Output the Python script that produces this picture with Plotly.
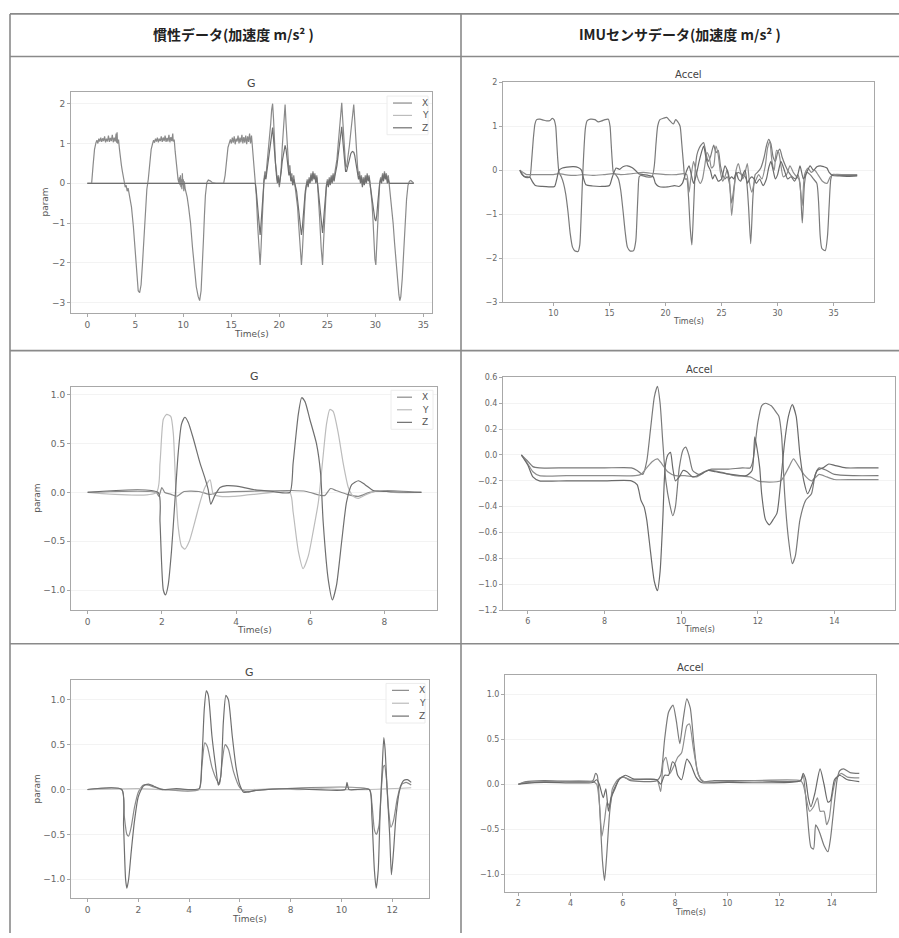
import plotly.graph_objects as go

W, H = 899, 938

# ---------------- DATA ----------------
# Panel 1 (慣性データ, G) row 1
g1_x_t = [0, 0.45, 0.6, 0.75, 0.9, 1.0, 1.1, 1.2, 1.3, 1.4, 1.5, 1.6, 1.7, 1.8, 1.9, 2.0, 2.1, 2.2, 2.3, 2.4, 2.5, 2.6, 2.7, 2.8, 2.9, 3.0, 3.05, 3.1, 3.15, 3.25, 3.35, 3.45, 3.55, 3.65, 3.75, 3.85, 3.95, 4.05, 4.15, 4.25, 4.35, 4.45,
          4.6, 4.8, 5.0, 5.15, 5.3, 5.45, 5.6, 5.75, 5.9, 6.05, 6.2, 6.35, 6.5, 6.65, 6.8,
          6.9, 7.0, 7.1, 7.2, 7.3, 7.4, 7.5, 7.6, 7.7, 7.8, 7.9, 8.0, 8.1, 8.2, 8.3, 8.4, 8.5, 8.6, 8.7, 8.8, 8.9, 8.95, 9.05,
          9.15, 9.25, 9.35, 9.45, 9.55, 9.6, 9.65, 9.7, 9.75, 9.8, 9.85, 9.9, 9.95, 10.0, 10.05, 10.1, 10.2, 10.3, 10.4,
          10.55, 10.75, 10.95, 11.15, 11.35, 11.55, 11.7, 11.85, 12.0, 12.1, 12.2, 12.3, 12.45, 12.6, 12.8, 13.0, 13.4, 14.2,
          14.35, 14.5, 14.65, 14.8,
          14.9, 15.0, 15.1, 15.2, 15.3, 15.4, 15.5, 15.6, 15.7, 15.8, 15.9, 16.0, 16.1, 16.2, 16.3, 16.4, 16.5, 16.6, 16.7, 16.8, 16.9, 17.0, 17.1,
          17.2, 17.35, 17.5, 17.6, 17.75, 17.9, 18.0, 18.1, 18.2, 18.3, 18.4, 18.5, 18.6, 18.7, 18.8, 18.9, 19.0, 19.1, 19.2, 19.3, 19.4, 19.5, 19.6, 19.7, 19.8, 19.9, 20.0, 20.1, 20.2, 20.3, 20.45, 20.6, 20.7, 20.8, 20.9, 21.0, 21.1, 21.2, 21.3, 21.4, 21.5, 21.6, 21.7, 21.8, 21.9, 22.0, 22.15, 22.3, 22.4, 22.5, 22.6, 22.7, 22.8, 22.9, 23.0, 23.1, 23.2, 23.3, 23.4, 23.5, 23.6, 23.7, 23.8, 23.9, 24.0, 24.1, 24.2, 24.35, 24.5, 24.6, 24.7, 24.8, 24.9, 25.0, 25.1, 25.2, 25.3, 25.4, 25.5, 25.6, 25.7, 25.8, 25.9, 26.0, 26.1, 26.25, 26.4, 26.5, 26.6, 26.7, 26.8, 26.9, 27.0, 27.1, 27.2, 27.3, 27.45, 27.6, 27.75, 27.85, 27.95, 28.05, 28.15, 28.25, 28.35, 28.45, 28.55, 28.65, 28.75, 28.85, 28.95, 29.05, 29.15, 29.25, 29.35, 29.45, 29.55, 29.65, 29.75, 29.85, 29.95, 30.05, 30.15, 30.25, 30.35, 30.45, 30.55, 30.65, 30.75, 30.85, 30.95, 31.05, 31.15, 31.25, 31.35, 31.45, 31.55, 31.65, 31.75, 31.85, 32.0, 32.15, 32.3, 32.45, 32.55, 32.65, 32.8, 32.95, 33.1, 33.25, 33.4, 33.55, 33.7, 33.85, 34.0]
g1_x_v = [0, 0, 0.45, 0.85, 1.02, 1.08, 1.0, 1.12, 1.05, 1.15, 1.04, 1.13, 1.06, 1.18, 1.03, 1.12, 1.05, 1.2, 1.04, 1.14, 1.06, 1.22, 1.03, 1.15, 1.05, 1.25, 1.02, 1.28, 1.0, 1.1, 0.85, 0.6, 0.45, 0.3, 0.15, 0.05, -0.1, -0.05, -0.2, -0.12, -0.25, -0.35,
          -0.6, -1.1, -1.8, -2.4, -2.7, -2.75, -2.55, -2.0, -1.3, -0.6, -0.15, 0.1, 0.5, 0.85, 1.0,
          1.08, 1.02, 1.12, 1.05, 1.15, 1.03, 1.12, 1.06, 1.18, 1.04, 1.15, 1.06, 1.2, 1.04, 1.14, 1.05, 1.22, 1.03, 1.16, 1.06, 1.25, 1.05, 1.1,
          0.8, 0.5, 0.25, 0.1, 0.0, 0.15, -0.05, 0.2, -0.1, 0.1, -0.15, 0.25, -0.05, 0.1, -0.2, 0.05, -0.15, -0.25, -0.35,
          -0.6, -1.0, -1.6, -2.2, -2.6, -2.85, -2.95, -2.7, -2.1, -1.4, -0.8, -0.3, 0.02, 0.08, 0.06, 0.02, 0.0, 0.0,
          0.2, 0.6, 0.9, 1.02,
          1.1, 1.0, 1.15, 1.02, 1.18, 0.98, 1.12, 1.05, 1.2, 1.0, 1.15, 1.03, 1.22, 1.0, 1.16, 1.02, 1.2, 0.98, 1.18, 1.04, 1.25, 1.0, 1.2,
          0.9, 0.5, 0.1, -0.3, -1.1, -1.8, -2.05, -1.6, -0.9, -0.3, 0.1, 0.3, 0.15, 0.45, 0.7, 0.9, 1.2, 1.5, 1.85, 2.0, 1.6, 1.0, 0.5, 0.3, 0.05, 0.2, -0.1, 0.15, 0.4, 0.9, 1.6, 1.98, 1.5, 1.0, 0.6, 0.3, 0.45, 0.1, 0.25, -0.05, 0.2, 0.0, -0.1, -0.3, -0.6, -1.0, -1.6, -2.05, -1.7, -1.1, -0.6, -0.3, -0.1, 0.1, -0.05, 0.15, 0.05, 0.25, 0.1, 0.3, 0.15, 0.25, 0.05, 0.2, -0.1, -0.4, -0.9, -1.6, -2.05, -1.5, -0.9, -0.4, -0.1, 0.1, -0.05, 0.15, 0.0, 0.2, 0.05, 0.25, 0.1, 0.3, 0.45, 0.6, 0.9, 1.4, 1.85, 2.02, 1.6, 1.1, 0.7, 0.45, 0.4, 0.55, 0.8, 0.95, 1.3, 1.7, 1.98, 1.6, 1.1, 0.7, 0.4, 0.2, 0.3, 0.05, 0.2, -0.05, 0.15, 0.0, 0.2, 0.05, 0.25, 0.1, 0.2, 0.0, -0.2, -0.5, -0.9, -1.5, -1.9, -2.05, -1.5, -0.8, -0.3, 0.0, 0.15, 0.05, 0.25, 0.1, 0.3, 0.15, 0.25, 0.05, 0.2, -0.05, -0.2, -0.4, -0.7, -1.0, -1.5, -2.0, -2.5, -2.8, -2.95, -2.85, -2.4, -1.7, -1.0, -0.4, -0.05, 0.05, 0.07, 0.03, 0.0]
g1_y_t = [0, 34.0]
g1_y_v = [0, 0]
g1_z_t = [0, 17.5, 17.6, 17.75, 17.9, 18.0, 18.1, 18.2, 18.3, 18.4, 18.5, 18.6, 18.7, 18.8, 18.9, 19.0, 19.1, 19.2, 19.3, 19.4, 19.5, 19.6, 19.7, 19.8, 19.9, 20.0, 20.1, 20.2, 20.3, 20.45, 20.6, 20.7, 20.8, 20.9, 21.0, 21.1, 21.2, 21.3, 21.4, 21.5, 21.6, 21.7, 21.8, 21.9, 22.0, 22.15, 22.3, 22.4, 22.5, 22.6, 22.7, 22.8, 22.9, 23.0, 23.1, 23.2, 23.3, 23.4, 23.5, 23.6, 23.7, 23.8, 23.9, 24.0, 24.1, 24.2, 24.35, 24.5, 24.6, 24.7, 24.8, 24.9, 25.0, 25.1, 25.2, 25.3, 25.4, 25.5, 25.6, 25.7, 25.8, 25.9, 26.0, 26.1, 26.25, 26.4, 26.5, 26.6, 26.7, 26.8, 26.9, 27.0, 27.1, 27.2, 27.3, 27.45, 27.6, 27.75, 27.85, 27.95, 28.05, 28.15, 28.25, 28.35, 28.45, 28.55, 28.65, 28.75, 28.85, 28.95, 29.05, 29.15, 29.25, 29.35, 29.45, 29.55, 29.65, 29.75, 29.85, 29.95, 30.05, 30.15, 30.25, 30.35, 30.45, 30.55, 30.65, 30.75, 30.85, 30.95, 31.05, 31.15, 31.25, 31.35, 31.45, 31.6, 34.0]
g1_z_v = [0, 0, -0.2, -0.7, -1.1, -1.3, -1.0, -0.6, -0.2, 0.05, 0.2, 0.1, 0.3, 0.5, 0.6, 0.8, 1.0, 1.25, 1.4, 1.1, 0.7, 0.35, 0.2, 0.0, 0.15, -0.05, 0.1, 0.3, 0.55, 0.8, 0.95, 0.85, 0.6, 0.4, 0.2, 0.3, 0.05, 0.15, -0.05, 0.1, -0.05, -0.1, -0.2, -0.4, -0.65, -1.0, -1.3, -1.1, -0.7, -0.4, -0.2, -0.05, 0.05, -0.1, 0.1, 0.0, 0.2, 0.05, 0.25, 0.1, 0.2, 0.0, 0.15, -0.05, -0.3, -0.6, -1.0, -1.25, -0.95, -0.6, -0.25, -0.05, 0.05, -0.1, 0.1, -0.05, 0.15, 0.0, 0.2, 0.05, 0.2, 0.3, 0.45, 0.65, 1.0, 1.3, 1.42, 1.1, 0.8, 0.5, 0.3, 0.3, 0.4, 0.55, 0.65, 0.75, 0.8, 0.78, 0.7, 0.55, 0.4, 0.25, 0.1, 0.2, 0.0, 0.15, -0.1, 0.1, -0.05, 0.15, 0.0, 0.2, 0.05, 0.15, -0.05, -0.15, -0.35, -0.6, -0.8, -0.9, -0.95, -0.8, -0.5, -0.2, 0.0, 0.1, 0.0, 0.2, 0.05, 0.25, 0.1, 0.2, 0.0, 0.1, 0.0, 0.0, 0.0]

# Panel 2 (IMUセンサデータ, Accel) row 1
a1_a_t = [7.0, 7.2, 7.4, 7.7, 7.9, 8.05, 8.2, 8.35, 8.5, 8.8, 9.1, 9.4, 9.7, 9.9, 10.05, 10.2, 10.3, 10.4, 10.5, 10.7, 10.9, 11.1, 11.3, 11.5, 11.7, 11.9, 12.2, 12.35, 12.45, 12.55, 12.65, 12.75, 12.85, 13.0, 13.3, 13.7, 14.0, 14.3, 14.6, 14.9, 15.05, 15.15, 15.25, 15.35, 15.55, 15.8, 16.0, 16.2, 16.4, 16.6, 16.85, 17.15, 17.35, 17.45, 17.55, 17.65, 17.8, 18.3, 18.8, 19.0, 19.15, 19.3, 19.5, 19.8, 20.1, 20.4, 20.7, 20.9, 21.1, 21.3, 21.45, 21.6, 21.75, 21.9, 22.05, 22.2, 22.35, 22.5, 22.65, 22.8, 23.0, 23.2, 23.4, 23.6, 23.8, 24.0, 24.3, 24.5, 24.7, 24.9, 25.1, 25.3, 25.5, 25.7, 25.9, 26.1, 26.3, 26.5, 26.8, 27.0, 27.2, 27.4, 27.6, 27.8, 28.0, 28.2, 28.5, 28.8, 29.0, 29.2, 29.4, 29.6, 29.8, 30.0, 30.2, 30.4, 30.7, 31.0, 31.3, 31.6, 31.8, 32.0, 32.2, 32.4, 32.6, 32.9, 33.2, 33.5, 33.65, 33.8, 33.95, 34.25, 34.45, 34.6, 34.75, 34.9, 35.5, 36.3, 37.1]
a1_a_v = [0.0, -0.08, -0.15, -0.17, -0.15, 0.2, 0.7, 1.05, 1.15, 1.16, 1.14, 1.12, 1.13, 1.18, 1.15, 1.0, 0.6, 0.2, -0.05, -0.15, -0.3, -0.55, -0.95, -1.45, -1.75, -1.83, -1.85, -1.7, -1.2, -0.5, 0.1, 0.6, 0.95, 1.12, 1.16, 1.15, 1.1, 1.12, 1.15, 1.16, 1.0, 0.6, 0.2, -0.05, -0.1, -0.2, -0.45, -0.9, -1.4, -1.75, -1.84, -1.83, -1.6, -1.1, -0.5, -0.15, -0.12, -0.15, -0.15, 0.1, 0.6, 1.0, 1.15, 1.18, 1.2, 1.12, 1.05, 1.15, 1.1, 1.0, 0.6, 0.15, -0.2, -0.2, -0.6, -1.3, -1.7, -0.9, 0.0, 0.35, 0.5, 0.58, 0.63, 0.4, 0.2, 0.3, 0.57, 0.4, 0.45, 0.1, -0.1, -0.2, -0.15, -0.3, -0.75, -0.4, -0.1, -0.05, -0.1, -0.12, -0.2, -0.8, -1.67, -0.6, -0.1, -0.05, 0.05, 0.3, 0.55, 0.7, 0.6, 0.3, 0.2, 0.4, 0.48, 0.3, 0.1, -0.05, -0.15, -0.2, -0.1, -0.3, -1.2, -0.3, -0.05, -0.1, -0.2, -0.3, -0.7, -1.5, -1.78, -1.83, -1.5, -0.8, -0.2, -0.1, -0.11, -0.12, -0.12]
a1_b_t = [7.0, 7.3, 7.6, 8.0, 9.0, 10.0, 10.5, 11.0, 12.0, 12.6, 13.5, 14.5, 15.3, 16.0, 17.0, 18.0, 19.0, 20.0, 21.0, 21.6, 21.9, 22.1, 22.25, 22.5, 22.7, 22.9, 23.1, 23.3, 23.5, 23.7, 23.9, 24.1, 24.3, 24.5, 24.7, 24.9, 25.1, 25.3, 25.5, 25.7, 25.9, 26.1, 26.3, 26.5, 26.7, 26.9, 27.1, 27.3, 27.5, 27.7, 27.9, 28.1, 28.3, 28.6, 28.9, 29.1, 29.3, 29.5, 29.7, 29.9, 30.1, 30.3, 30.5, 30.8, 31.1, 31.4, 31.7, 31.9, 32.1, 32.2, 32.4, 32.7, 33.0, 33.3, 33.6, 34.0, 34.4, 34.7, 35.0, 36.0, 37.1]
a1_b_v = [0.0, -0.05, -0.1, -0.1, -0.1, -0.1, -0.08, -0.1, -0.12, -0.1, -0.12, -0.1, -0.08, -0.1, -0.08, -0.05, -0.08, -0.1, -0.1, -0.08, -0.1, -0.5, -0.2, 0.2, 0.0, -0.2, -0.3, -0.2, 0.1, 0.4, 0.3, 0.05, 0.1, 0.55, 0.35, -0.05, -0.25, -0.15, 0.0, -0.2, -1.03, -0.5, 0.0, 0.15, -0.05, -0.2, -0.05, 0.15, -0.3, -0.5, -0.3, -0.2, -0.1, -0.2, 0.1, 0.5, 0.65, 0.2, 0.0, 0.45, 0.4, 0.1, -0.15, -0.1, 0.1, -0.05, -0.15, -0.2, -0.6, -0.8, -0.1, 0.05, -0.05, 0.0, -0.1, -0.25, -0.3, -0.15, -0.1, -0.1, -0.1]
a1_c_t = [7.0, 7.2, 7.5, 7.9, 8.1, 8.4, 9.0, 9.6, 10.1, 10.3, 10.5, 10.8, 11.2, 11.8, 12.2, 12.5, 12.7, 12.9, 13.5, 14.3, 15.0, 15.2, 15.4, 15.6, 15.9, 16.2, 16.6, 17.0, 17.3, 17.6, 18.0, 18.5, 18.9, 19.1, 19.4, 20.2, 20.8, 21.2, 21.5, 21.7, 21.9, 22.1, 22.3, 22.5, 22.7, 23.0, 23.2, 23.4, 23.6, 23.8, 24.0, 24.2, 24.4, 24.7, 25.0, 25.3, 25.5, 25.7, 25.9, 26.1, 26.3, 26.5, 26.7, 26.9, 27.1, 27.3, 27.5, 27.7, 27.9, 28.1, 28.4, 28.7, 29.0, 29.2, 29.4, 29.6, 29.8, 30.0, 30.3, 30.6, 30.9, 31.2, 31.5, 31.8, 32.0, 32.3, 32.6, 32.9, 33.2, 33.5, 33.8, 34.1, 34.4, 34.6, 34.9, 35.5, 36.3, 37.1]
a1_c_v = [0.0, -0.1, -0.15, -0.16, -0.25, -0.35, -0.37, -0.38, -0.37, -0.2, 0.0, 0.05, 0.07, 0.08, 0.06, 0.0, -0.2, -0.33, -0.36, -0.37, -0.35, -0.2, -0.05, 0.05, 0.02, 0.08, 0.1, 0.06, 0.0, -0.08, -0.1, -0.12, -0.15, -0.3, -0.37, -0.38, -0.35, -0.37, -0.3, -0.15, 0.0, 0.1, -0.1, -0.3, -0.15, 0.2, 0.4, 0.55, 0.3, 0.1, 0.0, -0.2, -0.1, -0.25, -0.2, 0.1, 0.0, -0.2, -0.15, -0.2, -0.05, -0.2, -0.25, -0.1, 0.0, -0.3, -0.2, -0.15, -0.2, -0.3, -0.2, -0.35, -0.2, 0.05, 0.2, 0.0, -0.2, -0.1, 0.2, 0.0, -0.2, -0.15, -0.25, -0.1, 0.1, -0.2, -0.05, 0.1, 0.0, 0.08, 0.1, 0.08, 0.05, -0.05, -0.12, -0.13, -0.14, -0.13]

# Panel 3 (G) row 2
g2_x_t = [0, 1.85, 1.92, 2.0, 2.08, 2.25, 2.4, 2.6, 3.0, 3.3, 3.5, 5.5, 5.9, 6.28, 6.4, 6.55, 6.7, 7.0, 7.3, 7.6, 8.0, 9.0]
g2_x_v = [0, 0, -0.04, 0.05, 0.0, -0.02, -0.04, 0.01, 0.01, -0.02, 0.0, 0.02, 0.01, -0.03, -0.03, 0.04, 0.02, -0.02, -0.04, 0.0, 0.02, 0.0]
g2_y_t = [0, 1.85, 1.95, 2.04, 2.13, 2.24, 2.31, 2.38, 2.44, 2.53, 2.62, 2.74, 2.89, 3.03, 3.16, 3.3, 3.39, 3.57, 3.93, 4.47, 5.45, 5.54, 5.68, 5.81, 5.95, 6.08, 6.22, 6.33, 6.44, 6.53, 6.62, 6.76, 6.89, 7.03, 7.16, 7.3, 7.52, 7.88, 8.24, 9.0]
g2_y_v = [0, 0, 0.3, 0.75, 0.8, 0.78, 0.6, 0.0, -0.35, -0.55, -0.58, -0.5, -0.3, -0.1, 0.05, 0.13, -0.02, -0.04, -0.04, -0.02, 0, -0.2, -0.6, -0.78, -0.65, -0.4, -0.1, 0.3, 0.7, 0.85, 0.83, 0.6, 0.3, 0.05, -0.04, -0.06, -0.02, 0.02, 0, 0]
g2_z_t = [0, 1.9, 1.95, 2.04, 2.1, 2.17, 2.26, 2.35, 2.44, 2.53, 2.62, 2.71, 2.85, 3.03, 3.16, 3.25, 3.32, 3.43, 3.57, 3.75, 4.1, 4.47, 5.0, 5.45, 5.54, 5.68, 5.77, 5.86, 5.99, 6.17, 6.28, 6.35, 6.49, 6.6, 6.71, 6.85, 6.98, 7.12, 7.3, 7.48, 7.7, 8.06, 9.0]
g2_z_v = [0, 0, -0.3, -1.0, -1.05, -0.95, -0.6, -0.1, 0.4, 0.7, 0.77, 0.72, 0.55, 0.3, 0.15, 0.03, -0.12, -0.03, 0.05, 0.07, 0.06, 0.03, 0.01, 0.0, 0.3, 0.8, 0.97, 0.93, 0.75, 0.5, 0.2, -0.3, -0.9, -1.1, -0.95, -0.5, -0.1, 0.08, 0.12, 0.08, 0.02, 0.01, 0]

# Panel 4 (Accel) row 2
a2_p_t = [5.83, 6.0, 6.13, 6.3, 7.0, 8.0, 8.7, 8.85, 9.0, 9.1, 9.2, 9.3, 9.38, 9.45, 9.52, 9.6, 9.7, 9.78, 9.85, 9.95, 10.05, 10.12, 10.2, 10.3, 10.45, 10.6, 10.8, 11.2, 11.6, 11.8, 11.87, 12.0, 12.1, 12.2, 12.35, 12.48, 12.55, 12.62, 12.7, 12.8, 12.9, 12.98, 13.1, 13.25, 13.4, 13.5, 13.6, 13.8, 14.0, 14.5, 15.15]
a2_p_v = [0, -0.05, -0.09, -0.1, -0.1, -0.1, -0.1, -0.12, -0.15, -0.05, 0.2, 0.45, 0.53, 0.4, 0.1, -0.2, -0.38, -0.47, -0.4, -0.1, 0.04, 0.06, 0.0, -0.12, -0.15, -0.13, -0.11, -0.11, -0.1, -0.1, -0.05, 0.25, 0.38, 0.4, 0.38, 0.33, 0.3, 0.15, -0.3, -0.65, -0.84, -0.78, -0.5, -0.35, -0.3, -0.15, -0.1, -0.12, -0.15, -0.16, -0.16]
a2_q_t = [5.83, 6.0, 6.13, 6.3, 7.0, 8.0, 8.8, 8.95, 9.1, 9.25, 9.38, 9.5, 9.65, 9.85, 10.1, 10.4, 10.7, 11.0, 11.4, 11.8, 12.0, 12.3, 12.6, 12.8, 12.93, 13.05, 13.2, 13.4, 13.6, 13.8, 14.0, 14.5, 15.15]
a2_q_v = [0, -0.07, -0.13, -0.16, -0.16, -0.16, -0.16, -0.15, -0.1, -0.05, -0.03, -0.07, -0.13, -0.16, -0.16, -0.17, -0.12, -0.13, -0.16, -0.17, -0.2, -0.21, -0.2, -0.1, -0.03, -0.08, -0.15, -0.2, -0.15, -0.17, -0.19, -0.19, -0.19]
a2_r_t = [5.83, 6.0, 6.13, 6.3, 7.0, 8.0, 8.7, 8.85, 8.95, 9.03, 9.1, 9.2, 9.3, 9.38, 9.45, 9.52, 9.58, 9.65, 9.72, 9.78, 9.85, 9.95, 10.05, 10.15, 10.3, 10.5, 10.7, 10.9, 11.3, 11.7, 11.85, 11.92, 11.98, 12.05, 12.1, 12.2, 12.3, 12.4, 12.5, 12.6, 12.7, 12.8, 12.9, 13.0, 13.1, 13.2, 13.3, 13.45, 13.55, 13.7, 13.85, 14.0, 14.3, 14.7, 15.15]
a2_r_v = [0, -0.08, -0.17, -0.2, -0.2, -0.2, -0.2, -0.23, -0.35, -0.4, -0.5, -0.75, -0.98, -1.05, -0.9, -0.5, -0.1, 0.0, 0.02, -0.1, -0.2, -0.17, -0.12, -0.13, -0.17, -0.15, -0.12, -0.13, -0.15, -0.16, -0.12, 0.14, 0.05, -0.1, -0.3, -0.5, -0.54, -0.5, -0.45, -0.2, 0.1, 0.3, 0.39, 0.3, 0.0, -0.2, -0.3, -0.2, -0.12, -0.1, -0.07, -0.08, -0.1, -0.1, -0.1]

# Panel 5 (G) row 3
g3_x_t = [0, 1.35, 1.45, 1.55, 1.62, 1.72, 1.85, 2.0, 2.2, 2.4, 2.6, 3.0, 4.39, 4.5, 4.62, 4.72, 4.9, 5.1, 5.2, 5.3, 5.42, 5.55, 5.75, 6.0, 6.2, 7.0, 11.1, 11.2, 11.3, 11.38, 11.48, 11.55, 11.65, 11.7, 11.78, 11.85, 11.95, 12.05, 12.2, 12.35, 12.55, 12.75]
g3_x_v = [0, 0, -0.3, -0.5, -0.52, -0.42, -0.2, -0.03, 0.05, 0.05, 0.03, 0, 0, 0.25, 0.52, 0.48, 0.25, 0.1, 0.06, 0.3, 0.5, 0.45, 0.2, 0.02, -0.02, 0, 0, -0.15, -0.45, -0.5, -0.4, -0.1, 0.25, 0.27, 0.1, -0.2, -0.42, -0.35, -0.1, 0.05, 0.08, 0.05]
g3_y_t = [0, 2.0, 3.0, 6.5, 7.5, 8.3, 9.2, 10.0, 11.0, 12.75]
g3_y_v = [0, 0.01, 0, 0, 0.01, 0, 0.01, 0, 0, 0.02]
g3_z_t = [0, 1.35, 1.42, 1.5, 1.55, 1.62, 1.72, 1.85, 2.0, 2.2, 2.4, 2.6, 2.9, 3.5, 4.0, 4.4, 4.5, 4.6, 4.68, 4.76, 4.9, 5.05, 5.15, 5.25, 5.35, 5.45, 5.55, 5.7, 5.85, 6.0, 6.15, 6.3, 6.6, 7.0, 8.0, 9.0, 10.15, 10.22, 10.3, 11.1, 11.2, 11.3, 11.37, 11.45, 11.52, 11.6, 11.67, 11.72, 11.8, 11.9, 11.97, 12.05, 12.15, 12.3, 12.45, 12.6, 12.75]
g3_z_v = [0, 0, -0.4, -1.0, -1.1, -1.0, -0.7, -0.35, -0.08, 0.04, 0.06, 0.04, 0.0, 0.01, 0.0, 0.01, 0.3, 0.9, 1.1, 1.05, 0.6, 0.25, 0.05, 0.15, 0.75, 1.05, 1.0, 0.6, 0.25, 0.05, -0.03, -0.03, -0.01, 0, 0.01, 0.0, 0.0, 0.08, 0.0, 0, -0.3, -0.9, -1.1, -0.9, -0.3, 0.2, 0.58, 0.45, 0.0, -0.5, -0.95, -0.7, -0.3, 0.0, 0.1, 0.11, 0.08]

# Panel 6 (Accel) row 3
a3_a_t = [2.0, 2.3, 3.0, 4.85, 4.95, 5.02, 5.12, 5.22, 5.3, 5.38, 5.5, 5.6, 5.75, 5.9, 6.05, 6.3, 7.3, 7.45, 7.6, 7.75, 7.92, 8.05, 8.18, 8.3, 8.45, 8.58, 8.72, 8.85, 9.05, 9.5, 11.0, 12.8, 12.9, 13.05, 13.2, 13.3, 13.38, 13.45, 13.55, 13.7, 13.85, 13.95, 14.1, 14.2, 14.3, 14.45, 14.7, 15.05]
a3_a_v = [0.0, 0.03, 0.04, 0.04, 0.12, 0.1, -0.3, -0.85, -1.07, -0.8, -0.3, -0.1, 0.0, 0.07, 0.08, 0.04, 0.04, 0.1, 0.5, 0.8, 0.88, 0.7, 0.45, 0.7, 0.95, 0.85, 0.45, 0.15, 0.03, 0.04, 0.04, 0.04, 0.1, -0.3, -0.7, -0.72, -0.45, -0.48, -0.55, -0.68, -0.75, -0.6, -0.2, 0.05, 0.15, 0.17, 0.13, 0.12]
a3_b_t = [2.0, 2.3, 3.0, 4.85, 5.0, 5.1, 5.2, 5.3, 5.4, 5.5, 5.6, 5.8, 6.0, 6.3, 7.3, 7.45, 7.55, 7.65, 7.8, 7.95, 8.1, 8.25, 8.45, 8.55, 8.7, 8.9, 9.1, 10.0, 12.8, 12.9, 13.05, 13.15, 13.3, 13.45, 13.55, 13.7, 13.8, 13.9, 14.0, 14.15, 14.35, 14.6, 15.05]
a3_b_v = [0.0, 0.02, 0.03, 0.03, 0.0, -0.2, -0.58, -0.4, -0.2, -0.25, -0.05, 0.05, 0.08, 0.05, 0.05, -0.08, 0.25, 0.3, 0.12, 0.2, 0.3, 0.35, 0.65, 0.67, 0.4, 0.1, 0.03, 0.03, 0.04, 0.0, -0.2, -0.3, -0.25, -0.15, -0.3, -0.3, -0.45, -0.38, -0.15, 0.05, 0.12, 0.08, 0.07]
a3_c_t = [2.0, 2.3, 3.0, 4.85, 5.0, 5.1, 5.25, 5.35, 5.45, 5.55, 5.7, 5.85, 6.1, 6.4, 7.3, 7.45, 7.6, 7.75, 7.9, 8.0, 8.1, 8.25, 8.45, 8.6, 8.8, 9.0, 10.0, 12.8, 12.9, 13.0, 13.1, 13.2, 13.35, 13.55, 13.7, 13.85, 13.95, 14.1, 14.3, 14.6, 15.05]
a3_c_v = [0.0, 0.01, 0.02, 0.02, 0.05, 0.0, -0.15, -0.05, -0.3, -0.15, -0.05, 0.05, 0.1, 0.06, 0.05, 0.0, 0.1, 0.1, 0.25, 0.22, 0.1, 0.05, 0.28, 0.22, 0.08, 0.02, 0.02, 0.04, 0.12, 0.05, -0.15, -0.25, -0.1, 0.17, 0.0, -0.2, -0.18, 0.05, 0.1, 0.05, 0.03]

# Text
header_left = "慣性データ(加速度 m/s² )"
header_right = "IMUセンサデータ(加速度 m/s² )"
series_names = ["X", "Y", "Z"]
g_colors = ["#8a8a8a", "#bcbcbc", "#6f6f6f"]
a_colors = ["#7a7a7a", "#8e8e8e", "#6a6a6a"]

# ---------------- LAYOUT HELPERS ----------------
def px(x):
    return x / W

def py(y):
    return 1 - y / H

panels = [
    dict(box=(71, 432, 89, 312), xr=[-1.7, 35.9], yr=[-3.26, 2.29], xt=[0, 5, 10, 15, 20, 25, 30, 35], yt=[-3, -2, -1, 0, 1, 2], fmt="d", fs=9,
         title_y=80, xlab_y=333, ylab_x=45, leg=(393, 412, 100, 12.5)),
    dict(box=(503, 874, 79, 301), xr=[5.5, 38.6], yr=[-3, 2], xt=[10, 15, 20, 25, 30, 35], yt=[-3, -2, -1, 0, 1, 2], fmt="d", fs=8,
         title_y=71, xlab_y=321),
    dict(box=(71, 437, 387, 612), xr=[-0.45, 9.42], yr=[-1.205, 1.077], xt=[0, 2, 4, 6, 8], yt=[-1.0, -0.5, 0.0, 0.5, 1.0], fmt=".1f", fs=9,
         title_y=376, xlab_y=632, ylab_x=37, leg=(397, 412, 397, 12.7)),
    dict(box=(503, 895, 377, 612), xr=[5.35, 15.58], yr=[-1.2, 0.6], xt=[6, 8, 10, 12, 14], yt=[-1.2, -1.0, -0.8, -0.6, -0.4, -0.2, 0.0, 0.2, 0.4, 0.6], fmt=".1f", fs=8,
         title_y=369, xlab_y=632),
    dict(box=(71, 429, 683, 903), xr=[-0.65, 13.45], yr=[-1.213, 1.216], xt=[0, 2, 4, 6, 8, 10, 12], yt=[-1.0, -0.5, 0.0, 0.5, 1.0], fmt=".1f", fs=9,
         title_y=675, xlab_y=924, ylab_x=37, leg=(392, 409, 693, 13)),
    dict(box=(505, 876, 678, 897), xr=[1.49, 15.69], yr=[-1.202, 1.209], xt=[2, 4, 6, 8, 10, 12, 14], yt=[-1.0, -0.5, 0.0, 0.5, 1.0], fmt=".1f", fs=8,
         title_y=670, xlab_y=917),
]

series = [
    [(g1_x_t, g1_x_v), (g1_y_t, g1_y_v), (g1_z_t, g1_z_v)],
    [(a1_a_t, a1_a_v), (a1_b_t, a1_b_v), (a1_c_t, a1_c_v)],
    [(g2_x_t, g2_x_v), (g2_y_t, g2_y_v), (g2_z_t, g2_z_v)],
    [(a2_p_t, a2_p_v), (a2_q_t, a2_q_v), (a2_r_t, a2_r_v)],
    [(g3_x_t, g3_x_v), (g3_y_t, g3_y_v), (g3_z_t, g3_z_v)],
    [(a3_a_t, a3_a_v), (a3_b_t, a3_b_v), (a3_c_t, a3_c_v)],
]

fig = go.Figure()
layout = dict(
    width=W, height=H, margin=dict(l=0, r=0, t=0, b=0),
    paper_bgcolor="white", plot_bgcolor="white", showlegend=False,
    font=dict(family="DejaVu Sans", color="#555555"),
    shapes=[], annotations=[],
)

def ann(text, x, y, size, color="#555555", angle=0, xanchor="center", family=None):
    f = dict(size=size, color=color)
    if family:
        f["family"] = family
    return dict(text=text, x=px(x), y=py(y), xref="paper", yref="paper", showarrow=False,
                xanchor=xanchor, yanchor="middle", textangle=angle, font=f)

smooth = {0: "linear", 1: "spline", 2: "spline", 3: "spline", 4: "spline", 5: "spline"}

for i, p in enumerate(panels):
    n = "" if i == 0 else str(i + 1)
    x0, x1, y0, y1 = p["box"]
    axis_common = dict(showline=True, mirror=True, linecolor="#a8a8a8", linewidth=1,
                       ticks="outside", ticklen=3, tickcolor="#a8a8a8", zeroline=False,
                       tickfont=dict(size=p["fs"], color="#666666"), fixedrange=True)
    layout["xaxis" + n] = dict(domain=[px(x0), px(x1)], range=p["xr"], tickvals=p["xt"],
                               showgrid=False, anchor="y" + n, **axis_common)
    layout["yaxis" + n] = dict(domain=[py(y1), py(y0)], range=p["yr"], tickvals=p["yt"],
                               tickformat=p["fmt"], showgrid=True, gridcolor="#f3f3f3",
                               anchor="x" + n, **axis_common)
    is_g = i % 2 == 0
    cols = g_colors if is_g else a_colors
    for k, (t, v) in enumerate(series[i]):
        fig.add_trace(go.Scatter(x=t, y=v, mode="lines", xaxis="x" + n, yaxis="y" + n,
                                 line=dict(color=cols[k], width=1.2, shape=smooth[i], smoothing=0.6),
                                 name=series_names[k], hoverinfo="skip", showlegend=False))
    cx = (x0 + x1) / 2
    layout["annotations"].append(ann("G" if is_g else "Accel", cx, p["title_y"], 11 if is_g else 10, "#444444"))
    layout["annotations"].append(ann("Time(s)", cx, p["xlab_y"], 9 if is_g else 8))
    if is_g:
        layout["annotations"].append(ann("param", p["ylab_x"], (y0 + y1) / 2, 9, angle=-90))
        # legend (drawn as line samples + text, matplotlib style)
        lx0, lx1, ly, dy = p["leg"]
        layout["shapes"].append(dict(type="rect", xref="paper", yref="paper",
                                     x0=px(lx0 - 6), x1=px(x1 - 4), y0=py(ly - 7), y1=py(ly + 2 * dy + 7),
                                     line=dict(color="#ececec", width=1), fillcolor="rgba(255,255,255,0.8)"))
        for k in range(3):
            yy = ly + k * dy
            layout["shapes"].append(dict(type="line", xref="paper", yref="paper",
                                         x0=px(lx0), x1=px(lx1), y0=py(yy), y1=py(yy),
                                         line=dict(color=cols[k], width=1.2)))
            layout["annotations"].append(ann(series_names[k], lx1 + 8, yy, 9, xanchor="left"))

# Table grid lines
line_col = "#8a8a8a"
for yy in [10, 53, 350, 646]:
    layout["shapes"].append(dict(type="line", xref="paper", yref="paper", x0=px(10), x1=1, y0=py(yy), y1=py(yy),
                                 line=dict(color=line_col, width=1.6)))
for xx in [10, 461]:
    layout["shapes"].append(dict(type="line", xref="paper", yref="paper", x0=px(xx), x1=px(xx), y0=py(10), y1=0,
                                 line=dict(color=line_col, width=1.6)))

# Header texts
cjk = "Noto Sans CJK JP"
layout["annotations"].append(ann("<b>" + header_left + "</b>", 233, 30, 14, "#222222", family=cjk))
layout["annotations"].append(ann("<b>" + header_right + "</b>", 680, 30, 14, "#222222", family=cjk))

fig.update_layout(**layout)
fig.write_html("out.html")
